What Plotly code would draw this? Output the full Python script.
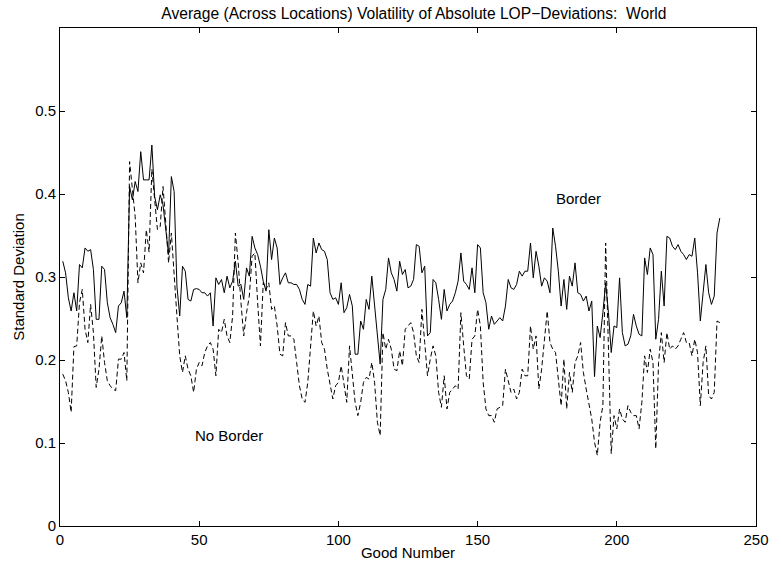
import plotly.graph_objects as go

good_number = list(range(1, 238))

border = [
    0.319, 0.305, 0.275, 0.259, 0.281, 0.259, 0.315, 0.311, 0.335, 0.331,
    0.333, 0.309, 0.249, 0.249, 0.313, 0.309, 0.269, 0.251, 0.243, 0.233,
    0.265, 0.269, 0.283, 0.251, 0.409, 0.393, 0.415, 0.403, 0.451, 0.417,
    0.417, 0.417, 0.459, 0.397, 0.381, 0.399, 0.387, 0.357, 0.327, 0.421,
    0.403, 0.289, 0.253, 0.313, 0.307, 0.273, 0.271, 0.285, 0.286, 0.285,
    0.281, 0.281, 0.277, 0.281, 0.241, 0.299, 0.291, 0.297, 0.281, 0.301,
    0.287, 0.295, 0.319, 0.289, 0.291, 0.273, 0.311, 0.301, 0.349, 0.335,
    0.327, 0.313, 0.295, 0.283, 0.357, 0.321, 0.347, 0.335, 0.291, 0.299,
    0.305, 0.293, 0.293, 0.291, 0.291, 0.285, 0.273, 0.267, 0.291, 0.289,
    0.347, 0.329, 0.341, 0.333, 0.331, 0.321, 0.281, 0.273, 0.275, 0.267,
    0.293, 0.257, 0.263, 0.279, 0.265, 0.207, 0.207, 0.247, 0.237, 0.273,
    0.261, 0.301, 0.265, 0.225, 0.195, 0.273, 0.285, 0.323, 0.305, 0.297,
    0.283, 0.319, 0.303, 0.309, 0.287, 0.289, 0.297, 0.339, 0.337, 0.305,
    0.313, 0.229, 0.233, 0.297, 0.293, 0.273, 0.249, 0.285, 0.259, 0.267,
    0.271, 0.281, 0.295, 0.329, 0.295, 0.291, 0.285, 0.311, 0.281, 0.339,
    0.335, 0.281, 0.269, 0.237, 0.253, 0.243, 0.247, 0.251, 0.247, 0.265,
    0.297, 0.287, 0.285, 0.291, 0.307, 0.301, 0.307, 0.307, 0.341, 0.299,
    0.331, 0.313, 0.289, 0.299, 0.295, 0.281, 0.359, 0.337, 0.307, 0.265,
    0.297, 0.261, 0.301, 0.289, 0.317, 0.281, 0.279, 0.271, 0.277, 0.259,
    0.271, 0.180, 0.241, 0.227, 0.257, 0.293, 0.257, 0.209, 0.241, 0.239,
    0.299, 0.233, 0.217, 0.219, 0.229, 0.255, 0.241, 0.231, 0.229, 0.323,
    0.303, 0.335, 0.327, 0.225, 0.249, 0.307, 0.265, 0.349, 0.347, 0.337,
    0.333, 0.339, 0.331, 0.327, 0.321, 0.327, 0.325, 0.347, 0.305, 0.247,
    0.281, 0.315, 0.281, 0.267, 0.277, 0.353, 0.371,
]

no_border = [
    0.183, 0.175, 0.161, 0.137, 0.216, 0.217, 0.269, 0.285, 0.237, 0.221,
    0.267, 0.233, 0.167, 0.189, 0.229, 0.197, 0.175, 0.169, 0.165, 0.163,
    0.201, 0.201, 0.209, 0.175, 0.439, 0.401, 0.373, 0.293, 0.317, 0.305,
    0.357, 0.330, 0.430, 0.393, 0.357, 0.361, 0.409, 0.365, 0.317, 0.353,
    0.309, 0.253, 0.205, 0.185, 0.205, 0.189, 0.181, 0.161, 0.189, 0.197,
    0.193, 0.209, 0.217, 0.221, 0.213, 0.181, 0.237, 0.233, 0.249, 0.229,
    0.221, 0.253, 0.353, 0.317, 0.269, 0.229, 0.257, 0.277, 0.325, 0.329,
    0.269, 0.217, 0.293, 0.285, 0.293, 0.261, 0.265, 0.241, 0.207, 0.205,
    0.245, 0.229, 0.229, 0.225, 0.197, 0.169, 0.153, 0.149, 0.173, 0.221,
    0.259, 0.241, 0.253, 0.221, 0.213, 0.189, 0.169, 0.153, 0.169, 0.173,
    0.193, 0.173, 0.149, 0.217, 0.185, 0.149, 0.133, 0.149, 0.173, 0.179,
    0.177, 0.197, 0.173, 0.125, 0.109, 0.233, 0.213, 0.225, 0.213, 0.189,
    0.187, 0.211, 0.193, 0.237, 0.241, 0.245, 0.233, 0.205, 0.197, 0.261,
    0.221, 0.181, 0.201, 0.217, 0.205, 0.161, 0.143, 0.181, 0.141, 0.161,
    0.165, 0.169, 0.165, 0.257, 0.217, 0.181, 0.177, 0.225, 0.229, 0.261,
    0.241, 0.173, 0.141, 0.133, 0.133, 0.125, 0.141, 0.143, 0.145, 0.189,
    0.173, 0.161, 0.165, 0.153, 0.161, 0.189, 0.181, 0.181, 0.241, 0.213,
    0.229, 0.165, 0.189, 0.229, 0.259, 0.221, 0.213, 0.209, 0.173, 0.145,
    0.201, 0.141, 0.185, 0.161, 0.197, 0.205, 0.221, 0.185, 0.165, 0.145,
    0.129, 0.101, 0.085, 0.125, 0.145, 0.341, 0.205, 0.087, 0.133, 0.117,
    0.141, 0.129, 0.125, 0.145, 0.137, 0.133, 0.133, 0.117, 0.149, 0.205,
    0.185, 0.213, 0.197, 0.093, 0.197, 0.233, 0.197, 0.233, 0.213, 0.217,
    0.213, 0.217, 0.225, 0.233, 0.221, 0.221, 0.205, 0.225, 0.209, 0.145,
    0.197, 0.217, 0.157, 0.153, 0.161, 0.247, 0.245,
]

x_ticks = [0, 50, 100, 150, 200, 250]
y_ticks = [0, 0.1, 0.2, 0.3, 0.4, 0.5]
y_tick_labels = ["0", "0.1", "0.2", "0.3", "0.4", "0.5"]

FONT = "Liberation Sans, Arial, Helvetica, sans-serif"
FS = 15

fig = go.Figure()
fig.add_trace(go.Scatter(x=good_number, y=border, mode="lines",
                         line=dict(color="black", width=1), name="Border"))
fig.add_trace(go.Scatter(x=good_number, y=no_border, mode="lines",
                         line=dict(color="black", width=1, dash="5px,3px"),
                         name="No Border"))

fig.add_annotation(x=177.5, y=0.394, text="Border", showarrow=False,
                   xanchor="left", yanchor="middle",
                   font=dict(family=FONT, size=FS, color="black"))
fig.add_annotation(x=47.6, y=0.109, text="No Border", showarrow=False,
                   xanchor="left", yanchor="middle",
                   font=dict(family=FONT, size=FS, color="black"))

axis_common = dict(showgrid=False, zeroline=False, showline=True,
                   linecolor="black", linewidth=1, mirror="ticks",
                   ticks="inside", ticklen=5, tickcolor="black", tickwidth=1,
                   tickfont=dict(family=FONT, size=FS, color="black"))

fig.update_layout(
    width=781, height=571,
    margin=dict(l=60, r=18, t=28, b=44),
    paper_bgcolor="white", plot_bgcolor="white",
    showlegend=False,
    title=dict(text="Average (Across Locations) Volatility of Absolute LOP\u2212Deviations:  World",
               x=0.53, xanchor="center", y=0.977, yanchor="middle",
               font=dict(family=FONT, size=15.6, color="black")),
    xaxis=dict(range=[0, 250], tickvals=x_ticks, ticklabelstandoff=0,
               title=dict(text="Good Number", standoff=0,
                          font=dict(family=FONT, size=FS, color="black")),
               **axis_common),
    yaxis=dict(range=[0, 0.6], tickvals=y_ticks, ticktext=y_tick_labels,
               ticklabelstandoff=0,
               title=dict(text="Standard Deviation", standoff=6,
                          font=dict(family=FONT, size=FS, color="black")),
               **axis_common),
)

fig.write_html("out.html")
